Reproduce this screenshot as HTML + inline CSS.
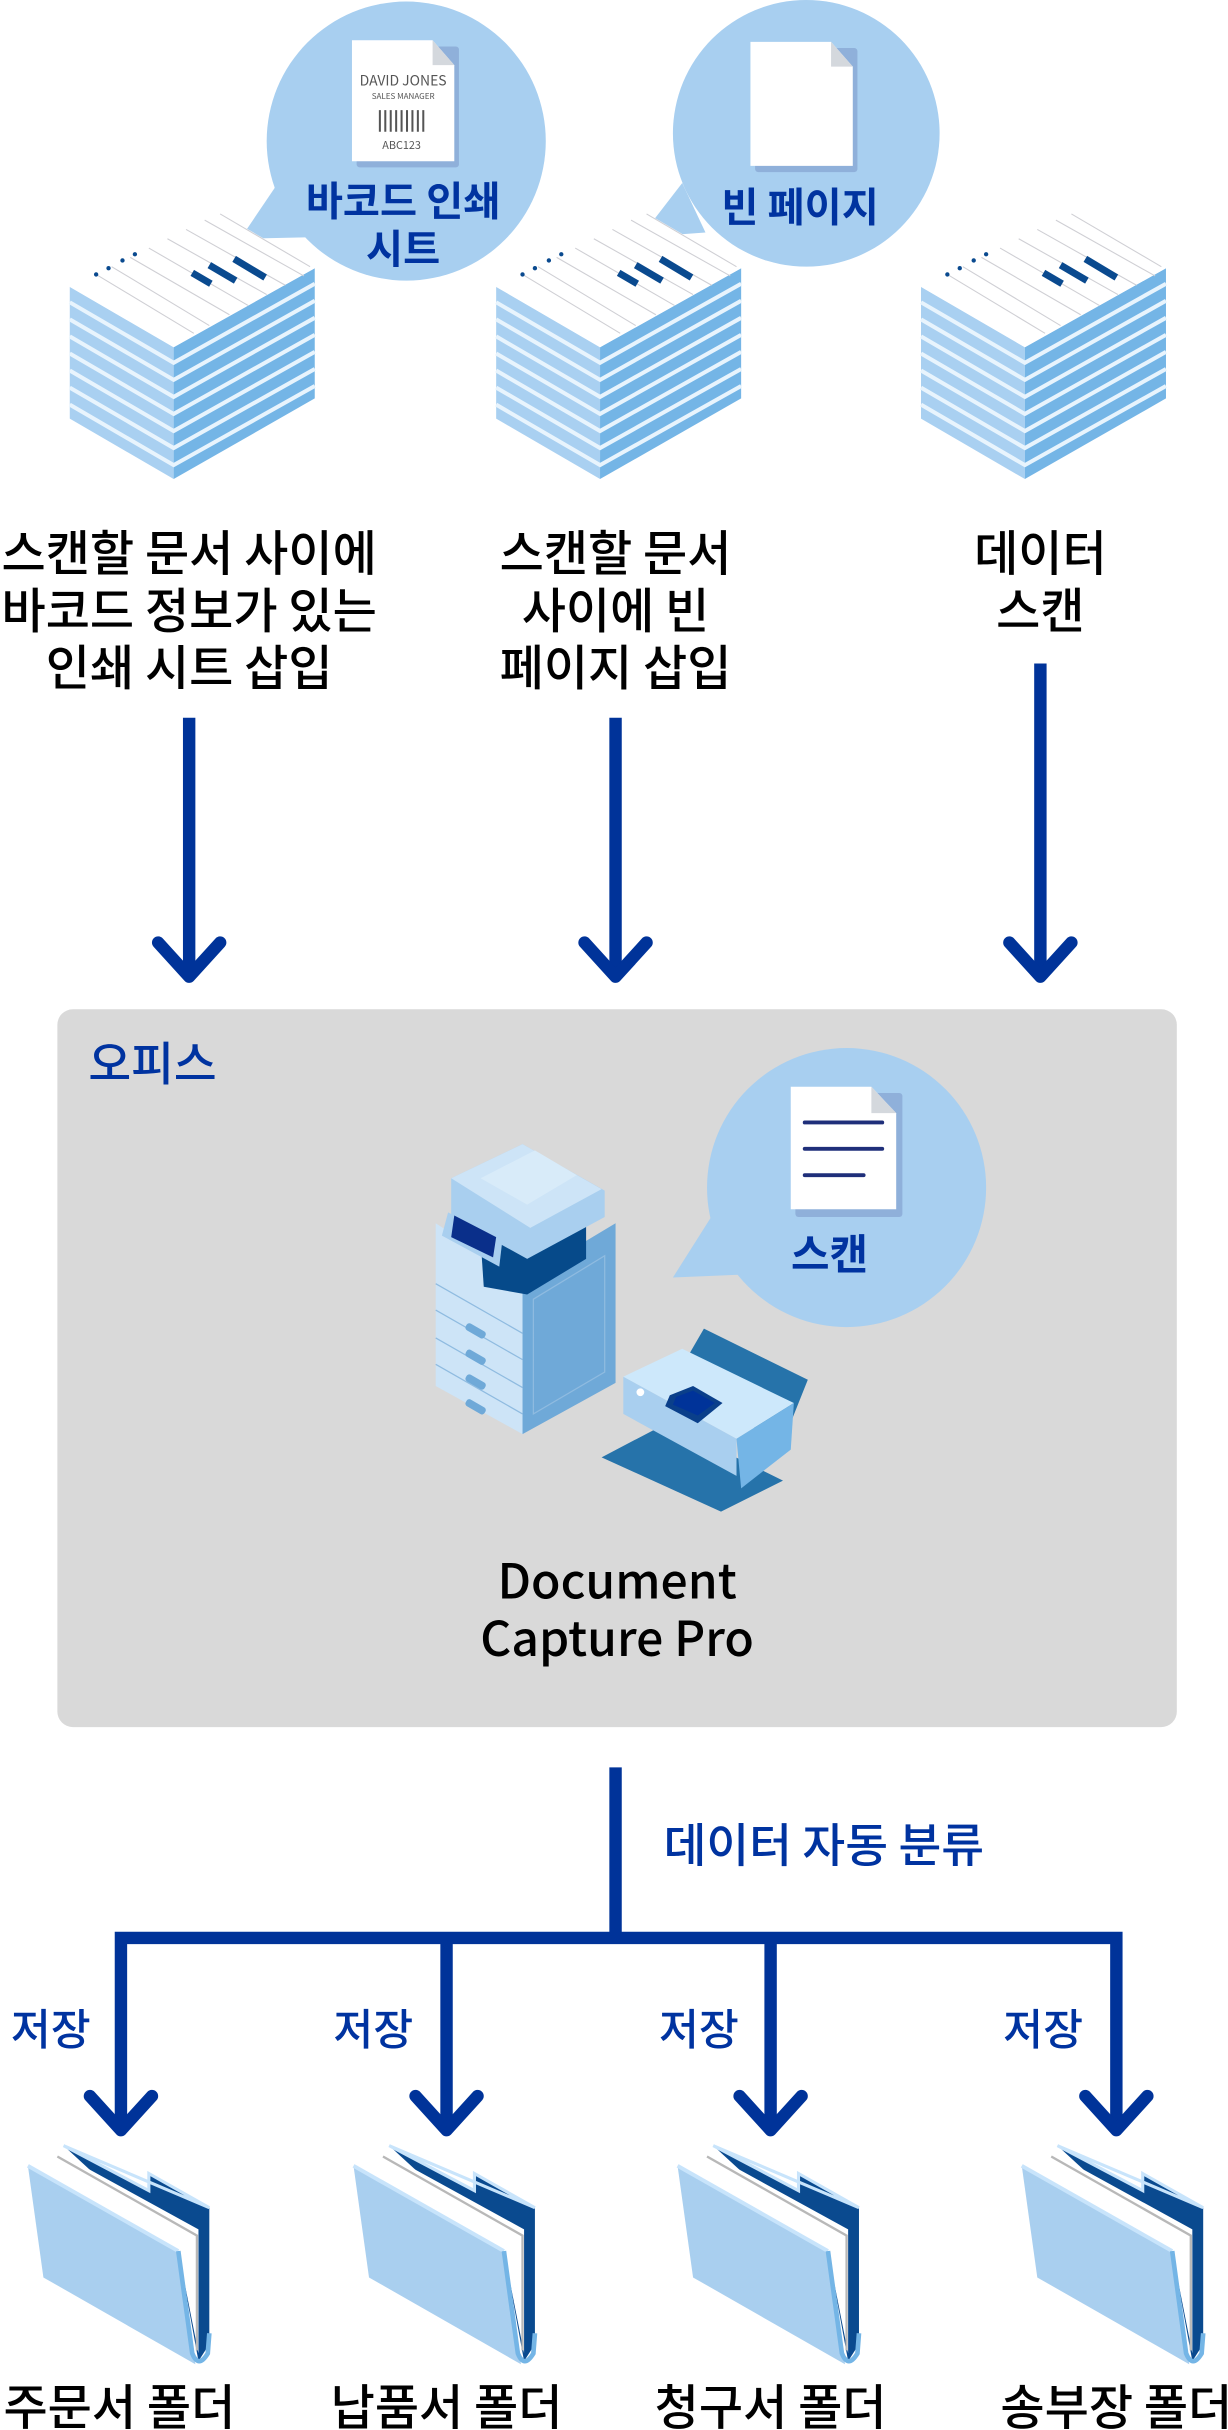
<!DOCTYPE html>
<html><head><meta charset="utf-8"><style>
html,body{margin:0;padding:0;background:#fff}
svg{display:block}
text{font-family:"Noto Sans CJK KR","Liberation Sans",sans-serif}
</style></head><body>
<svg width="1228" height="2430" viewBox="0 0 792 1567.4" preserveAspectRatio="none" xmlns="http://www.w3.org/2000/svg">
<defs>
<g id="stack">
  <polygon points="45,185 112,224 112,309 45,270" fill="#a9d0f1"/>
  <polygon points="112,224 203,173 203,257 112,309" fill="#74b5e6"/>
  <g stroke="#e8f4fd" stroke-width="2.6" fill="none">
    <path d="M45,195 L112,234 L203,183 M45,206 L112,245 L203,194 M45,217 L112,256 L203,205 M45,228 L112,267 L203,216 M45,239 L112,278 L203,227 M45,250 L112,289 L203,238 M45,261 L112,300 L203,249"/>
  </g>
  <polygon points="45,185 112,224 203,173 136,134" fill="#fff"/>
  <g stroke="#cfcfd4" stroke-width="0.7" fill="none">
    <path d="M62,177 L125,215 M72,172 L135,210 M84,166 L148,203 M96,160 L160,197 M108,154 L172,190 M120,148 L184,184 M132,142 L196,178 M142,138 L200,172"/>
  </g>
  <g fill="#0a4a8f">
    <circle cx="62" cy="177" r="1.4"/><circle cx="70" cy="173" r="1.4"/><circle cx="79" cy="168" r="1.4"/><circle cx="87" cy="164" r="1.4"/>
  </g>
  <g stroke="#0a4a8f" stroke-width="4.5" fill="none">
    <path d="M124,176 L136,183 M135,171 L152,181 M151,167 L171,179"/>
  </g>
</g>
<g id="folder">
  <polygon points="41,1384 96,1413 96,1402 135,1424 135,1512 128,1523 115,1452" fill="#0a4a8f"/>
  <polygon points="41,1384 96,1413 96,1402 135,1424" fill="none" stroke="#c8e4fb" stroke-width="2"/>
  <polygon points="37,1388 128,1438 128,1518 115,1452" fill="#fff"/>
  <path d="M37,1391 L127,1442 L127,1516" fill="none" stroke="#b8b8b8" stroke-width="1.5"/>
  <polygon points="18,1397 115,1452 126,1525 28,1469" fill="#a9cfef"/>
  <path d="M18,1397 L115,1452" stroke="#c8e4fb" stroke-width="2.5"/>
  <path d="M115,1452 L124,1518 Q128,1528 134,1518 L135,1505" fill="none" stroke="#74b5e6" stroke-width="3"/>
</g>
<g id="arrowD">
  <path d="M0,0 L20,22 L40,0" fill="none" stroke="#003399" stroke-width="8" stroke-linecap="round" stroke-linejoin="round"/>
</g>
</defs>

<circle cx="262" cy="91" r="90" fill="#a8cff0"/>
<polygon points="155,154 178,120 200,153" fill="#a8cff0"/>
<circle cx="520" cy="86" r="86" fill="#a8cff0"/>
<polygon points="413,153 440,118 455,150" fill="#a8cff0"/>

<rect x="230" y="30" width="66" height="78" rx="2" fill="#8fb0da"/>
<path d="M227,26 L279,26 L293,42 L293,104 L227,104 Z" fill="#fff"/>
<path d="M279,26 L293,42 L279,42 Z" fill="#d4d8dd"/>
<text x="260" y="55" font-size="9" text-anchor="middle" fill="#555">DAVID JONES</text>
<text x="260" y="64" font-size="5.2" text-anchor="middle" fill="#555">SALES MANAGER</text>
<g stroke="#555" stroke-width="1.3"><path d="M245,71 v14 M248.5,71 v14 M252,71 v14 M255.5,71 v14 M259,71 v14 M262.5,71 v14 M266,71 v14 M269.5,71 v14 M273,71 v14"/></g>
<text x="259" y="96" font-size="7" text-anchor="middle" fill="#555">ABC123</text>
<text x="260" y="139" font-size="26" font-weight="700" text-anchor="middle" fill="#0033a0">바코드 인쇄</text>
<text x="260" y="170" font-size="26" font-weight="700" text-anchor="middle" fill="#0033a0">시트</text>

<rect x="487" y="31" width="66" height="80" rx="2" fill="#8fb0da"/>
<path d="M484,27 L536,27 L550,43 L550,107 L484,107 Z" fill="#fff"/>
<path d="M536,27 L550,43 L536,43 Z" fill="#d4d8dd"/>
<text x="516" y="143" font-size="26" font-weight="700" text-anchor="middle" fill="#0033a0">빈 페이지</text>

<use href="#stack"/>
<use href="#stack" x="275"/>
<use href="#stack" x="549"/>

<g font-size="31" font-weight="500" text-anchor="middle" fill="#000">
<text x="122" y="368">스캔할 문서 사이에</text>
<text x="122" y="405">바코드 정보가 있는</text>
<text x="122" y="442">인쇄 시트 삽입</text>
<text x="397" y="368">스캔할 문서</text>
<text x="397" y="405">사이에 빈</text>
<text x="397" y="442">페이지 삽입</text>
<text x="671" y="368">데이터</text>
<text x="671" y="405">스캔</text>
</g>

<g stroke="#003399" stroke-width="8">
<path d="M122,463 V626 M397,463 V626 M671,428 V626"/>
</g>
<use href="#arrowD" x="102" y="608"/>
<use href="#arrowD" x="377" y="608"/>
<use href="#arrowD" x="651" y="608"/>

<rect x="37" y="651" width="722" height="463" rx="10" fill="#d9d9d9"/>
<text x="57" y="697" font-size="30" font-weight="500" fill="#0033a0">오피스</text>

<circle cx="546" cy="766" r="90" fill="#a8cff0"/>
<polygon points="434,824 465,775 482,822" fill="#a8cff0"/>
<rect x="513" y="705" width="69" height="80" rx="2" fill="#8fb0da"/>
<path d="M510,701 L562,701 L578,718 L578,780 L510,780 Z" fill="#fff"/>
<path d="M562,701 L578,718 L562,718 Z" fill="#d4d8dd"/>
<g stroke="#1f2f7a" stroke-width="2.5" stroke-linecap="round"><path d="M519,724 H569 M519,741 H569 M519,758 H557"/></g>
<text x="535" y="819" font-size="27" font-weight="700" text-anchor="middle" fill="#0033a0">스캔</text>

<polygon points="281,789 337,825 337,925 281,894" fill="#cde4f7"/>
<polygon points="337,825 397,789 397,892 337,925" fill="#6fa9d8"/>
<g stroke="#8fbbe0" stroke-width="0.8" fill="none">
<path d="M281,828 L337,860 M281,845 L337,877 M281,863 L337,895 M281,880 L337,912 M344,838 L390,810 V885 L344,912 Z"/>
</g>
<g fill="#6fa9d8"><rect x="300" y="856" width="14" height="5" rx="2" transform="rotate(30 307 858)"/><rect x="300" y="873" width="14" height="5" rx="2" transform="rotate(30 307 875)"/><rect x="300" y="889" width="14" height="5" rx="2" transform="rotate(30 307 891)"/><rect x="300" y="905" width="14" height="5" rx="2" transform="rotate(30 307 907)"/></g>
<polygon points="310,800 378,790 378,812 340,835 312,830" fill="#064a8a"/>
<polygon points="291,760 337,738 390,768 390,785 340,812 291,785" fill="#a9cfef"/>
<polygon points="291,760 337,738 388,767 342,792" fill="#cde4f7"/>
<polygon points="310,760 345,742 372,758 340,777" fill="#d8ebf9"/>
<polygon points="289,782 324,800 322,817 285,797" fill="#a9cfef"/>
<polygon points="293,784 320,798 318,811 291,798" fill="#0a2f8a"/>

<polygon points="454,857 521,890 505,930 432,895" fill="#2673aa"/>
<polygon points="388,940 430,918 505,955 465,975" fill="#2673aa"/>
<polygon points="402,888 440,870 512,905 475,928" fill="#cde8fb"/>
<polygon points="402,888 475,928 475,952 402,912" fill="#a9cfef"/>
<polygon points="475,928 512,905 510,935 478,960" fill="#74b5e6"/>
<polygon points="432,900 447,894 466,905 450,918 429,907" fill="#0a3f8a"/>
<polygon points="436,901 447,897 461,905 450,913 434,906" fill="#003399"/>
<circle cx="413" cy="898" r="2.5" fill="#fff"/>

<text x="398" y="1031" font-size="31" font-weight="500" text-anchor="middle" fill="#000">Document</text>
<text x="398" y="1068" font-size="31" font-weight="500" text-anchor="middle" fill="#000">Capture Pro</text>

<g stroke="#003399" stroke-width="8" fill="none">
<path d="M397,1140 V1250 M74,1250 H724 M78,1250 V1372 M288,1250 V1372 M497,1250 V1372 M720,1250 V1372"/>
</g>
<use href="#arrowD" x="58" y="1352"/>
<use href="#arrowD" x="268" y="1352"/>
<use href="#arrowD" x="477" y="1352"/>
<use href="#arrowD" x="700" y="1352"/>
<text x="428" y="1201" font-size="30" font-weight="500" fill="#0033a0">데이터 자동 분류</text>
<g font-size="28" font-weight="500" fill="#0033a0">
<text x="7" y="1319">저장</text><text x="215" y="1319">저장</text><text x="425" y="1319">저장</text><text x="647" y="1319">저장</text>
</g>

<use href="#folder"/>
<use href="#folder" x="210"/>
<use href="#folder" x="419"/>
<use href="#folder" x="641"/>

<g font-size="31" font-weight="500" text-anchor="middle" fill="#000">
<text x="77" y="1564">주문서 폴더</text>
<text x="288" y="1564">납품서 폴더</text>
<text x="497" y="1564">청구서 폴더</text>
<text x="720" y="1564">송부장 폴더</text>
</g>
</svg>
</body></html>
